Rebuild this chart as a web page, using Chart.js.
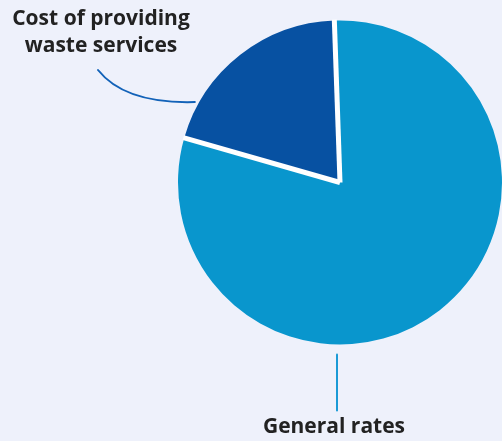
<!DOCTYPE html>
<html>
<head>
<meta charset="utf-8">
<script src="https://cdn.jsdelivr.net/npm/chart.js@4/dist/chart.umd.min.js"></script>
<style>
  html, body { margin: 0; padding: 0; background: #eef1fb; }
  #wrap { width: 502px; height: 441px; position: relative; }
</style>
</head>
<body>
<div id="wrap"><canvas id="pieChart"></canvas></div>
<script>
const labels = ['General rates', 'Cost of providing waste services']
const values = [80, 20]
const colours = ['#0996cd', '#0751a2']

// white gaps between slices, only on the radial edges
const dividerPlugin = {
  id: 'dividers',
  afterDatasetsDraw(chart) {
    const ctx = chart.ctx
    ctx.save()
    ctx.strokeStyle = '#ffffff'
    ctx.lineWidth = 5
    ctx.lineCap = 'butt'
    chart.getDatasetMeta(0).data.forEach(arc => {
      ctx.beginPath()
      ctx.moveTo(arc.x, arc.y)
      ctx.lineTo(arc.x + Math.cos(arc.startAngle) * (arc.outerRadius + 1),
                 arc.y + Math.sin(arc.startAngle) * (arc.outerRadius + 1))
      ctx.stroke()
    })
    ctx.restore()
  }
}

// labels + leader lines drawn around the pie
const calloutPlugin = {
  id: 'callouts',
  afterDraw(chart) {
    const ctx = chart.ctx
    const arc = chart.getDatasetMeta(0).data[0]
    const cx = arc.x, cy = arc.y, r = arc.outerRadius

    ctx.save()
    ctx.lineCap = 'round'

    // general rates: vertical line under the pie
    ctx.strokeStyle = '#1a9ad6'
    ctx.lineWidth = 2
    ctx.beginPath()
    ctx.moveTo(cx - 3, cy + r + 10)
    ctx.lineTo(cx - 3, cy + r + 66)
    ctx.stroke()

    // waste services: curved line to the dark slice
    const a = -61 * Math.PI / 180
    const ex = cx + Math.sin(a) * (r + 4), ey = cy - Math.cos(a) * (r + 4)
    ctx.strokeStyle = '#1262b8'
    ctx.beginPath()
    ctx.moveTo(98, 70)
    ctx.quadraticCurveTo(125, 104, ex, ey)
    ctx.stroke()

    ctx.fillStyle = '#222222'
    ctx.font = 'bold 21px "Open Sans"'
    ctx.textAlign = 'center'
    ctx.textBaseline = 'alphabetic'
    ctx.fillText('Cost of providing', 101, 25)
    ctx.fillText('waste services', 101, 52)
    ctx.fillText(labels[0], 334, 433)
    ctx.restore()
  }
}

new Chart(document.getElementById('pieChart'), {
  type: 'pie',
  data: {
    labels: labels,
    datasets: [{
      data: values,
      backgroundColor: colours,
      borderWidth: 0
    }]
  },
  options: {
    responsive: true,
    maintainAspectRatio: false,
    animation: false,
    rotation: -2,
    layout: { padding: { left: 178, top: 20, right: 0, bottom: 96 } },
    plugins: {
      legend: { display: false },
      tooltip: { enabled: false }
    }
  },
  plugins: [dividerPlugin, calloutPlugin]
})
</script>
</body>
</html>
